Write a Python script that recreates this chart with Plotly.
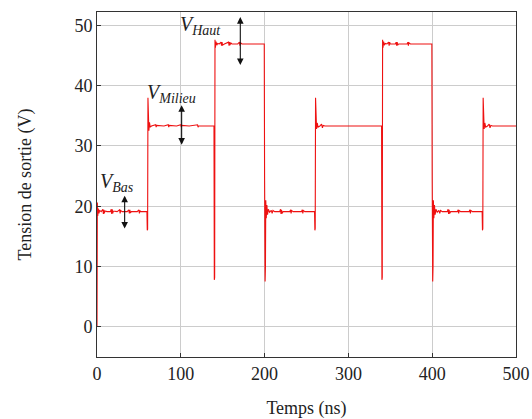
import plotly.graph_objects as go

# Waveform samples (time in ns, voltage in V)
time_ns = [
    0, 0.4, 0.9, 1.5, 2.3, 3.2, 5, 7, 7.6, 8.2, 8.8, 9.4, 12, 16, 17, 17.6, 18.2, 18.8, 19.4,
    24, 27, 27.6, 28.2, 30, 36, 38, 38.6, 39.2, 39.8, 41, 48, 50, 50.6, 51.2, 52, 59.6,
    60, 60.4, 60.8, 61.3, 61.9, 62.6, 63.5, 65,
    70, 70.6, 71.2, 80, 85, 85.6, 86.2, 95, 100, 100.6, 101.2, 110, 120, 120.6, 121.2, 139.6,
    140, 140.4, 140.8, 141.3, 142, 143, 144, 146,
    148, 148.6, 149.2, 149.8, 152, 157, 157.6, 158.2, 158.8, 159.4, 161, 168, 170, 170.6, 171.2, 173, 183, 199.6,
    200, 200.3, 200.6, 201, 201.4, 202, 202.7, 203.5, 204.5, 206, 208, 209, 210, 212,
    218, 219, 219.6, 220.2, 220.8, 222, 230, 231, 231.6, 232.2, 234, 244, 245, 245.6, 246.2, 248, 259.6,
    260, 260.4, 260.8, 261.3, 262, 262.8, 263.8, 266, 268, 269, 270, 272, 290, 300, 310, 339.6,
    340, 340.4, 340.8, 341.3, 342, 343, 344, 346, 348, 348.6, 349.2, 350, 356, 357, 357.6, 358.2, 358.8, 360,
    370, 371, 371.6, 372.2, 374, 399.6,
    400, 400.3, 400.6, 401, 401.4, 402, 402.7, 403.5, 404.5, 406, 408, 409, 410, 412,
    418, 419, 419.6, 420.2, 420.8, 422, 430, 431, 431.6, 432.2, 434, 444, 445, 445.6, 446.2, 448, 459.6,
    460, 460.4, 460.8, 461.3, 462, 462.8, 463.8, 466, 468, 469, 470, 472, 485, 500,
]
v_out = [
    0, 20.6, 18.4, 19.6, 18.8, 19.3, 19.1, 19.5, 18.7, 19.4, 18.8, 19.2, 19.1, 19.1, 19.5, 18.7, 19.5, 18.8, 19.2,
    19.1, 19.4, 18.8, 19.3, 19.1, 19.1, 19.4, 18.8, 19.4, 18.9, 19.1, 19.1, 19.4, 18.8, 19.3, 19.1, 19.1,
    16.0, 16.2, 38.0, 34.6, 32.5, 33.9, 33.1, 33.3,
    33.5, 33.1, 33.4, 33.3, 33.5, 33.1, 33.4, 33.3, 33.5, 33.1, 33.4, 33.3, 33.5, 33.1, 33.3, 33.3,
    7.8, 8.2, 47.6, 46.3, 47.3, 46.7, 47.0, 46.9,
    47.2, 46.6, 47.2, 46.7, 46.9, 47.2, 46.6, 47.2, 46.7, 47.1, 46.9, 46.9, 47.2, 46.6, 47.1, 46.9, 46.9, 46.9,
    24.3, 20.0, 7.5, 10.0, 21.0, 18.0, 20.2, 18.6, 19.5, 19.0, 19.3, 18.8, 19.3, 19.1,
    19.1, 19.5, 18.7, 19.4, 18.8, 19.1, 19.1, 19.4, 18.8, 19.3, 19.1, 19.1, 19.4, 18.8, 19.3, 19.1, 19.1,
    16.0, 16.3, 38.0, 34.2, 32.8, 33.8, 33.1, 33.3, 33.6, 33.0, 33.4, 33.3, 33.3, 33.4, 33.3, 33.3,
    7.8, 8.2, 47.6, 46.3, 47.3, 46.7, 47.0, 46.9, 47.2, 46.6, 47.2, 46.9, 46.9, 47.2, 46.6, 47.2, 46.7, 46.9,
    46.9, 47.2, 46.6, 47.1, 46.9, 46.9,
    24.3, 20.0, 7.5, 10.0, 21.0, 18.0, 20.2, 18.6, 19.5, 19.0, 19.3, 18.8, 19.3, 19.1,
    19.1, 19.5, 18.7, 19.4, 18.8, 19.1, 19.1, 19.4, 18.8, 19.3, 19.1, 19.1, 19.4, 18.8, 19.3, 19.1, 19.1,
    16.0, 16.3, 38.0, 34.2, 32.8, 33.8, 33.1, 33.3, 33.6, 33.0, 33.4, 33.3, 33.3, 33.3,
]

x_ticks = [0, 100, 200, 300, 400, 500]
y_ticks = [0, 10, 20, 30, 40, 50]

# Level annotations: label, label position, arrow x, arrow y-range
level_labels = ["V<sub>Bas</sub>", "V<sub>Milieu</sub>", "V<sub>Haut</sub>"]
label_x = [1.5, 57, 97]
label_y = [24.0, 38.7, 49.9]
arrow_x = [33, 101, 171]
arrow_lo = [16.3, 30.2, 43.4]
arrow_hi = [22.0, 37.0, 51.6]

FONT = "Liberation Serif"

fig = go.Figure()
fig.add_trace(go.Scatter(x=time_ns, y=v_out, mode="lines",
                         line=dict(color="#ee1111", width=1.1), showlegend=False))

for lab, lx, ly in zip(level_labels, label_x, label_y):
    fig.add_annotation(x=lx, y=ly, xref="x", yref="y", text="<i>" + lab + "</i>",
                       showarrow=False, xanchor="left", yanchor="middle",
                       font=dict(family=FONT, size=20, color="#222"))

for ax_, lo, hi in zip(arrow_x, arrow_lo, arrow_hi):
    fig.add_annotation(x=ax_, y=lo, ax=ax_, ay=hi, xref="x", yref="y", axref="x", ayref="y",
                       text="", showarrow=True, arrowhead=2, startarrowhead=2,
                       arrowside="end+start", arrowsize=1.2, arrowwidth=1.1, arrowcolor="#111")

fig.update_xaxes(range=[0, 500], tickvals=x_ticks, showgrid=True, gridcolor="#cccccc", gridwidth=1,
                 zeroline=False, showline=True, linecolor="#333", linewidth=1, mirror=True,
                 ticks="inside", ticklen=4, tickcolor="#333", automargin=False,
                 tickfont=dict(family=FONT, size=18, color="#222"),
                 title=dict(text="Temps (ns)", font=dict(family=FONT, size=18, color="#222"), standoff=18))
fig.update_yaxes(range=[-5, 52.2], tickvals=y_ticks, showgrid=True, gridcolor="#cccccc", gridwidth=1,
                 zeroline=False, showline=True, linecolor="#333", linewidth=1, mirror=True,
                 ticks="inside", ticklen=4, tickcolor="#333", automargin=False,
                 tickfont=dict(family=FONT, size=18, color="#222"),
                 title=dict(text="Tension de sortie (V)", font=dict(family=FONT, size=18, color="#222"), standoff=38))

fig.update_layout(width=532, height=419, margin=dict(l=97, r=16, t=12, b=62),
                  plot_bgcolor="white", paper_bgcolor="white")

# remove the default 8px page margin so the figure fills the window exactly
fig.write_html("out.html", config={"displayModeBar": False},
               post_script="document.body.style.margin='0';document.body.style.overflow='hidden';")
